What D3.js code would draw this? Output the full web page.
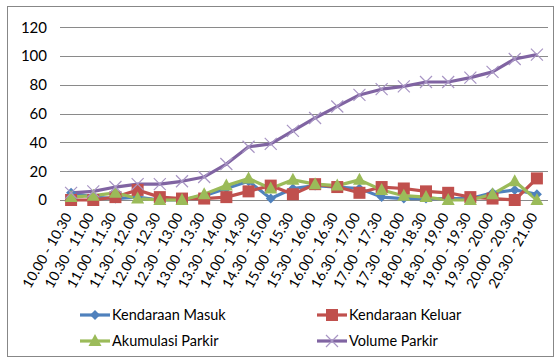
<!DOCTYPE html>
<html>
<head>
<meta charset="utf-8">
<script src="https://cdn.jsdelivr.net/npm/d3@7"></script>
<style>
  html, body { margin: 0; padding: 0; background: #fff; }
  svg { display: block; }
  text { font-family: Lato, "Open Sans", sans-serif; fill: #000; }
</style>
</head>
<body>
<svg id="chart" width="560" height="363"></svg>
<script>
// Time slots (half-hour intervals)
const categories = [
  "10.00 - 10.30", "10.30 - 11.00", "11.00 - 11.30", "11.30 - 12.00",
  "12.00 - 12.30", "12.30 - 13.00", "13.00 - 13.30", "13.30 - 14.00",
  "14.00 - 14.30", "14.30 - 15.00", "15.00 - 15.30", "15.30 - 16.00",
  "16.00 - 16.30", "16.30 - 17.00", "17.00 - 17.30", "17.30 - 18.00",
  "18.00 - 18.30", "18.30 - 19.00", "19.00 - 19.30", "19.30 - 20.00",
  "20.00 - 20.30", "20.30 - 21.00"
];

// Series values
const kendaraanMasuk  = [5, 2, 1, 2, 0, 0, 3, 8, 13, 1, 8, 10, 9, 8, 2, 1, 1, 1, 1, 5, 7, 4];
const kendaraanKeluar = [0, 0, 2, 7, 2, 1, 1, 2, 6, 10, 4, 11, 9, 5, 9, 8, 6, 5, 2, 1, 0, 15];
const akumulasiParkir = [2, 3, 5, 1, 0, 0, 4, 10, 15, 8, 14, 11, 10, 14, 7, 3, 2, 0, 0, 4, 13, 0];
const volumeParkir    = [5, 6, 9, 11, 11, 13, 16, 25, 37, 39, 48, 57, 65, 73, 77, 79, 82, 82, 85, 89, 98, 101];

// Y axis ticks
const yTicks = [0, 20, 40, 60, 80, 100, 120];

const seriesNames = ["Kendaraan Masuk", "Kendaraan Keluar", "Akumulasi Parkir", "Volume Parkir"];
const seriesColors = ["#4F81BD", "#C0504D", "#9BBB59", "#8064A2"];

const series = [
  { name: seriesNames[0], values: kendaraanMasuk,  color: seriesColors[0], marker: "diamond" },
  { name: seriesNames[1], values: kendaraanKeluar, color: seriesColors[1], marker: "square" },
  { name: seriesNames[2], values: akumulasiParkir, color: seriesColors[2], marker: "triangle" },
  { name: seriesNames[3], values: volumeParkir,    color: seriesColors[3], marker: "cross" }
];

const svg = d3.select("#chart");

// Outer chart frame
svg.append("rect")
  .attr("x", 7.5).attr("y", 6.5)
  .attr("width", 546).attr("height", 350)
  .attr("fill", "#fff")
  .attr("stroke", "#878787")
  .attr("stroke-width", 1);

const plot = { left: 60, right: 548, top: 27.3, bottom: 200 };

const x = d3.scaleBand()
  .domain(categories)
  .range([plot.left, plot.right]);

const y = d3.scaleLinear()
  .domain([0, 120])
  .range([plot.bottom, plot.top]);

const cx = d => x(d) + x.bandwidth() / 2;

// Horizontal gridlines
svg.append("g")
  .selectAll("line")
  .data(yTicks)
  .join("line")
  .attr("x1", plot.left).attr("x2", plot.right)
  .attr("y1", d => Math.round(y(d)) + 0.5)
  .attr("y2", d => Math.round(y(d)) + 0.5)
  .attr("stroke", "#8a8a8a")
  .attr("stroke-width", 1.2);

// Y axis labels
const yAxis = d3.axisLeft(y).tickValues(yTicks).tickSize(0).tickPadding(0);
const yg = svg.append("g")
  .attr("transform", `translate(${plot.left - 13},0)`)
  .call(yAxis);
yg.select(".domain").remove();
yg.selectAll("text")
  .attr("font-size", 15)
  .attr("font-family", null);

// X axis labels, rotated
const xAxis = d3.axisBottom(x).tickSize(0).tickPadding(0);
const xg = svg.append("g")
  .attr("transform", `translate(0,${plot.bottom})`)
  .call(xAxis);
xg.select(".domain").remove();
xg.selectAll("text")
  .attr("font-size", 14)
  .attr("font-family", null)
  .attr("text-anchor", "end")
  .attr("dy", "0.35em")
  .attr("transform", "translate(-3,14) rotate(-60)")
  .attr("y", 0).attr("x", 0);

// Lines
const line = d3.line()
  .x((d, i) => cx(categories[i]))
  .y(d => y(d));

const linesG = svg.append("g");
series.forEach(s => {
  linesG.append("path")
    .datum(s.values)
    .attr("d", line)
    .attr("fill", "none")
    .attr("stroke", s.color)
    .attr("stroke-width", 3.2)
    .attr("stroke-linejoin", "round");
});

// Marker drawing
function drawMarker(g, type, color) {
  if (type === "diamond") {
    g.append("path").attr("d", "M0,-5L5,0L0,5L-5,0Z").attr("fill", color);
  } else if (type === "square") {
    g.append("rect").attr("x", -6).attr("y", -6).attr("width", 12).attr("height", 12).attr("fill", color);
  } else if (type === "triangle") {
    g.append("path").attr("d", "M0,-7L6.5,5L-6.5,5Z").attr("fill", color);
  } else if (type === "cross") {
    g.append("path").attr("d", "M-6,-6L6,6M-6,6L6,-6")
      .attr("stroke", "#a895c4").attr("stroke-width", 1.2).attr("fill", "none");
  }
}

series.forEach(s => {
  const mg = svg.append("g");
  s.values.forEach((v, i) => {
    const g = mg.append("g").attr("transform", `translate(${cx(categories[i])},${y(v)})`);
    drawMarker(g, s.marker, s.color);
  });
});

// Legend
const legendPos = [
  { x: 80, y: 315 }, { x: 317, y: 315 },
  { x: 80, y: 341 }, { x: 317, y: 341 }
];
series.forEach((s, i) => {
  const p = legendPos[i];
  const g = svg.append("g").attr("transform", `translate(${p.x},${p.y})`);
  g.append("line").attr("x1", 0).attr("x2", 30).attr("y1", 0).attr("y2", 0)
    .attr("stroke", s.color).attr("stroke-width", 3.2);
  const m = g.append("g").attr("transform", "translate(15,0)");
  drawMarker(m, s.marker, s.color);
  g.append("text").attr("x", 32).attr("y", 0).attr("dy", "0.35em")
    .attr("font-size", 14.5).text(s.name);
});
</script>
</body>
</html>
